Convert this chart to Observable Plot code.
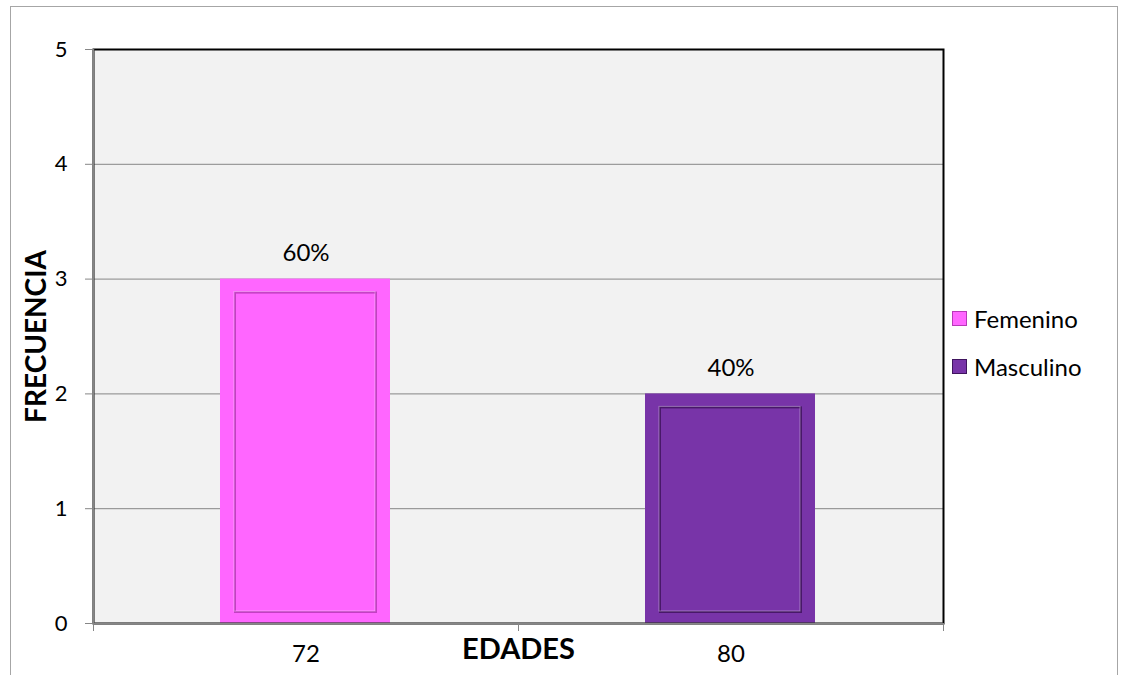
<!DOCTYPE html>
<html><head><meta charset="utf-8">
<script src="https://cdn.jsdelivr.net/npm/d3@7"></script>
<script src="https://cdn.jsdelivr.net/npm/@observablehq/plot@0.6"></script>
<style>
body{margin:0;background:#fff;font-family:Lato,sans-serif;}
#wrap{position:relative;width:1121px;height:675px;overflow:hidden;background:#fff}
#border{position:absolute;left:10px;top:6px;width:1108px;height:720px;border:1.5px solid #a6a6a6;box-sizing:border-box;pointer-events:none}
#chart{position:absolute;left:0;top:0}
#legend{position:absolute;left:952px;top:305px;font-family:Lato,sans-serif;font-size:24px;color:#000}
.item{display:flex;align-items:center;height:26px;margin-bottom:22px}
.sw{width:15px;height:15px;margin-right:7px;box-sizing:border-box}
</style></head>
<body>
<div id="wrap">
<div id="chart"></div>
<div id="border"></div>
<div id="legend"></div>
</div>
<script>
const edades = ["72", "80"];
const sexos = ["Femenino", "Masculino"];
const frecuencias = [3, 2];
const porcentajes = ["60%", "40%"];
const colores = ["#ff66ff", "#7834a8"];
const bordes = ["#b838b8", "#3f145e"];
const yTicks = [0, 1, 2, 3, 4, 5];

const data = edades.map((e, i) => ({edad: e, i, sexo: sexos[i], f: frecuencias[i], p: porcentajes[i], borde: bordes[i]}));

const chart = Plot.plot({
  width: 1121, height: 675,
  marginLeft: 93, marginRight: 178, marginTop: 49, marginBottom: 52,
  style: {fontFamily: "Lato, sans-serif", fontSize: "22px", color: "#000", background: "transparent"},
  x: {domain: [0, edades.length], axis: null},
  y: {domain: [0, 5], axis: null},
  color: {domain: sexos, range: colores},
  marks: [
    Plot.frame({fill: "#f2f2f2"}),
    Plot.gridY(yTicks.filter(v => v > 0 && v < 5), {stroke: "#868686", strokeOpacity: 1}),
    Plot.rectY(data, {x1: "i", x2: d => d.i + 1, y: "f", fill: "sexo", insetLeft: 127, insetRight: 128}),
    Plot.rectY(data, {x1: "i", x2: d => d.i + 1, y: "f", fill: "none", stroke: "borde", strokeWidth: 2, strokeOpacity: 0.85, insetLeft: 142, insetRight: 142, insetTop: 14, insetBottom: 11}),
    Plot.rectY(data, {x1: "i", x2: d => d.i + 1, y: "f", fill: "none", stroke: "white", strokeWidth: 1, strokeOpacity: 0.35, insetLeft: 141, insetRight: 143, insetTop: 13, insetBottom: 12}),
    Plot.frame({stroke: "black", strokeWidth: 2}),
    Plot.ruleY([0], {stroke: "#868686", strokeWidth: 1.5}),
    Plot.ruleX([0], {stroke: "#868686", strokeWidth: 1.5}),
    Plot.axisY({ticks: yTicks, tickSize: 8, tickPadding: 18, stroke: "#868686", fill: "black", label: null, tickFormat: d => String(d)}),
    Plot.axisX({ticks: d3.range(edades.length + 1), tickSize: 8, tickFormat: () => "", stroke: "#868686", label: null}),
    Plot.axisX({ticks: edades.map((e, i) => i + 0.5), tickSize: 0, tickPadding: 21, fontSize: 24, tickFormat: v => edades[Math.floor(v)], fill: "black", label: null}),
    Plot.text(data, {x: d => d.i + 0.5, y: "f", text: "p", dy: -26, fontSize: 24, fill: "black"}),
    Plot.text(["FRECUENCIA"], {frameAnchor: "left", textAnchor: "middle", dx: -56, rotate: -90, fontWeight: "bold", fontSize: 28, fill: "black"}),
    Plot.text(["EDADES"], {frameAnchor: "bottom", textAnchor: "middle", dy: 35, fontWeight: "bold", fontSize: 29, fill: "black"})
  ]
});
document.getElementById("chart").append(chart);

const legend = document.getElementById("legend");
sexos.forEach((s, i) => {
  const it = document.createElement("div");
  it.className = "item";
  const sw = document.createElement("div");
  sw.className = "sw";
  sw.style.background = colores[i];
  sw.style.border = "1px solid " + bordes[i];
  const t = document.createElement("span");
  t.textContent = s;
  it.append(sw, t);
  legend.append(it);
});
</script>
</body></html>
